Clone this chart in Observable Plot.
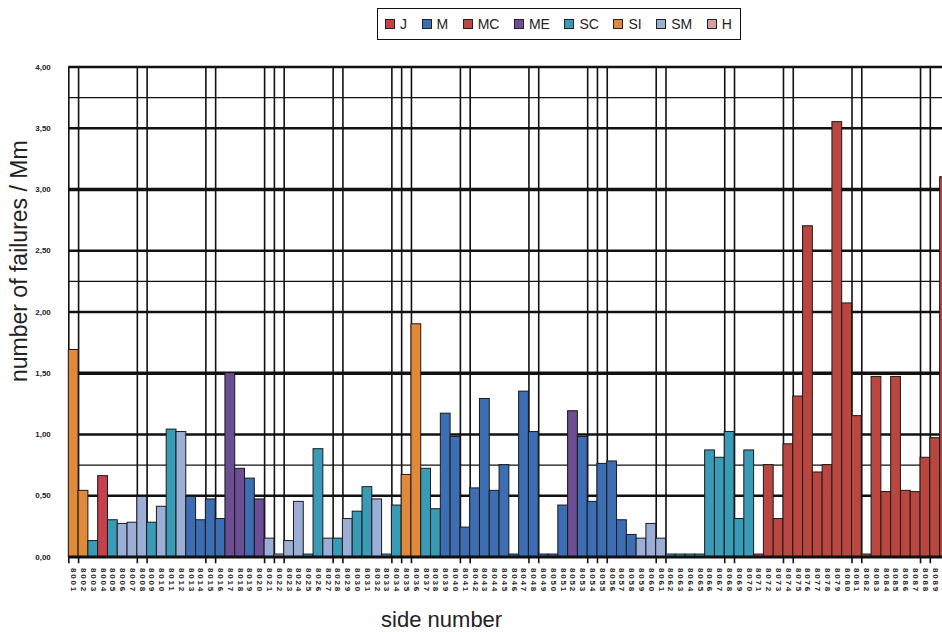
<!DOCTYPE html>
<html><head><meta charset="utf-8">
<script src="https://cdn.jsdelivr.net/npm/d3@7"></script>
<script src="https://cdn.jsdelivr.net/npm/@observablehq/plot@0.6"></script>
<style>
html,body{margin:0;padding:0;background:#fff;overflow:hidden}
#wrap{position:relative;width:942px;height:632px}
#legend{position:absolute;left:377px;top:8px;width:364px;height:32px;box-sizing:border-box;border:1.5px solid #111;display:flex;align-items:center;padding-left:7px;gap:14.5px;font:14px "Liberation Sans",Arial,sans-serif;color:#222;background:#fff;white-space:nowrap}
.item{display:flex;align-items:center}
.sw{width:8px;height:8px;border:1px solid #222;margin-right:5px}
svg [aria-label="x-axis tick label"] text{letter-spacing:1.8px;font-weight:bold}
svg [aria-label="y-axis tick label"] text{font-weight:bold}
</style></head><body><div id="wrap"><div id="legend"></div></div>
<script>
const sideNumbers = ["8001","8002","8003","8004","8005","8006","8007","8008","8009","8010",
"8011","8012","8013","8014","8015","8016","8017","8018","8019","8020",
"8021","8022","8023","8024","8025","8026","8027","8028","8029","8030",
"8031","8032","8033","8034","8035","8036","8037","8038","8039","8040",
"8041","8042","8043","8044","8045","8046","8047","8048","8049","8050",
"8051","8052","8053","8054","8055","8056","8057","8058","8059","8060",
"8061","8062","8063","8064","8065","8066","8067","8068","8069","8070",
"8071","8072","8073","8074","8075","8076","8077","8078","8079","8080",
"8081","8082","8083","8084","8085","8086","8087","8088","8089","8090"];

const failures = [1.69,0.54,0.13,0.66,0.30,0.27,0.28,0.49,0.28,0.41,
1.04,1.02,0.49,0.30,0.47,0.31,1.50,0.72,0.64,0.47,
0.15,0.02,0.13,0.45,0.02,0.88,0.15,0.15,0.31,0.37,
0.57,0.47,0.02,0.42,0.67,1.90,0.72,0.39,1.17,0.98,
0.24,0.56,1.29,0.54,0.75,0.02,1.35,1.02,0.02,0.02,
0.42,1.19,0.98,0.45,0.76,0.78,0.30,0.18,0.15,0.27,
0.15,0.02,0.02,0.02,0.02,0.87,0.81,1.02,0.31,0.87,
0.02,0.75,0.31,0.92,1.31,2.70,0.69,0.75,3.55,2.07,
1.15,0.02,1.47,0.53,1.47,0.54,0.53,0.81,0.97,3.10];

const types = ["SI","SI","SC","J","SC","SM","SM","SM","SC","SM",
"SC","SM","M","M","M","M","ME","ME","M","ME",
"SM","SM","SM","SM","SC","SC","SM","SC","SM","SC",
"SC","SM","SC","SC","SI","SI","SC","SC","M","M",
"M","M","M","M","M","M","M","M","M","M",
"M","ME","M","M","M","M","M","M","SM","SM",
"SM","SC","SC","SC","SC","SC","SC","SC","SC","SC",
"MC","MC","MC","MC","MC","MC","MC","MC","MC","MC",
"MC","MC","MC","MC","MC","MC","MC","MC","MC","MC"];

const legendTypes = ["J","M","MC","ME","SC","SI","SM","H"];
const legendColors = ["#c8404c","#3d6db2","#b9463f","#6b4e94","#3a9bb6","#e0893a","#9aaed6","#d6a0a0"];

const yTicks = [0,0.5,1,1.5,2,2.5,3,3.5,4];
const gridHeavy = [1.5,3];
const gridMedium = [0.5,1,2,2.5,3.5,4];
const gridThin = [0.75,2.25,3.75];
const gridSlots = [0,1,7,8,14,15,20,21,22,27,28,33,34,35,40,41,47,48,53,54,55,60,61,67,68,73,74,80,81,87,88];

const rows = failures.map((v, i) => ({i, side: sideNumbers[i], v, type: types[i]}));

const chart = Plot.plot({
  width: 942, height: 632,
  marginLeft: 68.3, marginRight: 0, marginTop: 66.5, marginBottom: 75.5,
  style: {fontFamily: "'Liberation Sans', Arial, sans-serif", background: "white", color: "#222"},
  x: {type: "linear", domain: [0, sideNumbers.length], range: [68.3, 68.3 + sideNumbers.length * 9.79]},
  y: {domain: [0, 4], range: [556.5, 66.5]},
  color: {domain: legendTypes, range: legendColors},
  marks: [
    Plot.ruleY(gridThin, {stroke: "#111", strokeWidth: 1.3}),
    Plot.ruleY(gridMedium, {stroke: "#111", strokeWidth: 2.4}),
    Plot.ruleY(gridHeavy, {stroke: "#111", strokeWidth: 3.4}),
    Plot.ruleX(gridSlots, {x: d => d, y1: -0.055, y2: 4, stroke: "#111", strokeWidth: 1.6}),
    Plot.rectY(rows, {x1: "i", x2: d => d.i + 1, y1: 0, y2: "v", fill: "type", stroke: "#1a1a1a", strokeWidth: 1}),
    Plot.ruleY([0], {stroke: "#111", strokeWidth: 2.8}),
    Plot.axisY({ticks: yTicks, tickFormat: d => d.toFixed(2).replace(".", ","), tickSize: 0, tickPadding: 18, fontSize: 8, label: null}),
    Plot.axisX({ticks: rows.map(d => d.i + 0.5), tickFormat: t => sideNumbers[Math.floor(t)], tickRotate: 90, tickSize: 0, tickPadding: 11, fontSize: 8, label: null}),
    Plot.text(["number of failures / Mm"], {frameAnchor: "left", rotate: -90, dx: -49, dy: 70, fontSize: 23, fill: "#222"}),
    Plot.text(["side number"], {frameAnchor: "bottom", dx: -64, dy: 70, fontSize: 22, fill: "#222"})
  ]
});
document.getElementById("wrap").prepend(chart);

const legend = document.getElementById("legend");
legendTypes.forEach((t, k) => {
  const item = document.createElement("div");
  item.className = "item";
  const sw = document.createElement("span");
  sw.className = "sw";
  sw.style.background = legendColors[k];
  const lab = document.createElement("span");
  lab.textContent = t;
  item.append(sw, lab);
  legend.append(item);
});
</script></body></html>
